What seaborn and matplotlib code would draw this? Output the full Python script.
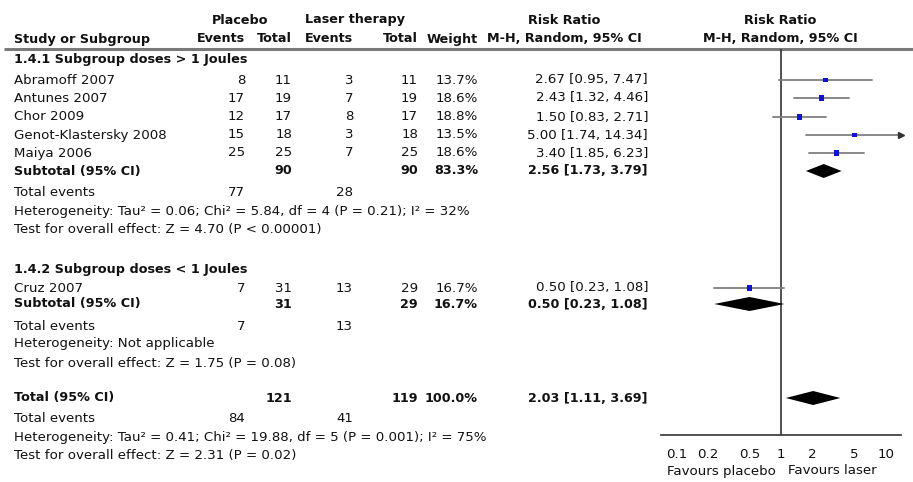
import numpy as np
import pandas as pd
import seaborn as sns
import matplotlib.pyplot as plt

# ---- data ----
studies = ["Abramoff 2007", "Antunes 2007", "Chor 2009", "Genot-Klastersky 2008", "Maiya 2006", "Cruz 2007"]
study_group = [0, 0, 0, 0, 0, 1]
placebo_events = [8, 17, 12, 15, 25, 7]
placebo_total = [11, 19, 17, 18, 25, 31]
laser_events = [3, 7, 8, 3, 7, 13]
laser_total = [11, 19, 17, 18, 25, 29]
weights = [13.7, 18.6, 18.8, 13.5, 18.6, 16.7]
rr = [2.67, 2.43, 1.50, 5.00, 3.40, 0.50]
rr_lo = [0.95, 1.32, 0.83, 1.74, 1.85, 0.23]
rr_hi = [7.47, 4.46, 2.71, 14.34, 6.23, 1.08]

groups = ["1.4.1 Subgroup doses > 1 Joules", "1.4.2 Subgroup doses < 1 Joules"]
sub_placebo_events = [77, 7]
sub_laser_events = [28, 13]
sub_placebo_total = [90, 31]
sub_laser_total = [90, 29]
sub_weight = [83.3, 16.7]
sub_rr = [2.56, 0.50]
sub_lo = [1.73, 0.23]
sub_hi = [3.79, 1.08]
sub_het = ["Heterogeneity: Tau\u00b2 = 0.06; Chi\u00b2 = 5.84, df = 4 (P = 0.21); I\u00b2 = 32%",
           "Heterogeneity: Not applicable"]
sub_test = ["Test for overall effect: Z = 4.70 (P < 0.00001)",
            "Test for overall effect: Z = 1.75 (P = 0.08)"]

tot_placebo_events, tot_laser_events = 84, 41
tot_placebo_total, tot_laser_total = 121, 119
tot_weight = 100.0
tot_rr, tot_lo, tot_hi = 2.03, 1.11, 3.69
tot_het = "Heterogeneity: Tau\u00b2 = 0.41; Chi\u00b2 = 19.88, df = 5 (P = 0.001); I\u00b2 = 75%"
tot_test = "Test for overall effect: Z = 2.31 (P = 0.02)"

tick_values = [0.1, 0.2, 0.5, 1, 2, 5, 10]
tick_labels = ["0.1", "0.2", "0.5", "1", "2", "5", "10"]

# ---- layout (pixel rows / columns) ----
W, H = 913, 482
group_y = [60, 269]
study_y = [80, 98, 117, 135, 153, 288]
sub_y = [171, 304]
events_y = [193, 326]
het_y = [211, 344]
test_y = [229, 363]
total_y, total_events_y, total_het_y, total_test_y = 398, 419, 438, 456
col_x = {"name": 14, "pe": 245, "pt": 292, "le": 353, "lt": 418, "w": 478, "rr": 648}
axis_y, line_y = 435, 49
plot_left, plot_right = 661, 901

sns.set_style("white")
plt.rcParams["font.family"] = ["DejaVu Sans"]
txt_col = "#111111"
fs = 9.6
fs_b = 9.2

fig = plt.figure(figsize=(W / 100, H / 100), dpi=100)
tab = fig.add_axes([0, 0, 1, 1])
tab.set_xlim(0, W)
tab.set_ylim(H, 0)
tab.axis("off")


def t(x, y, s, ha="left", bold=False):
    tab.text(x, y, s, ha=ha, va="center", fontsize=fs_b if bold else fs, color=txt_col,
             fontweight="bold" if bold else "normal")


# headers
t(240, 20, "Placebo", ha="center", bold=True)
t(355, 20, "Laser therapy", ha="center", bold=True)
t(564, 20, "Risk Ratio", ha="center", bold=True)
t(780, 20, "Risk Ratio", ha="center", bold=True)
t(col_x["name"], 39, "Study or Subgroup", bold=True)
t(col_x["pe"], 39, "Events", ha="right", bold=True)
t(col_x["pt"], 39, "Total", ha="right", bold=True)
t(col_x["le"], 39, "Events", ha="right", bold=True)
t(col_x["lt"], 39, "Total", ha="right", bold=True)
t(col_x["w"], 39, "Weight", ha="right", bold=True)
t(564, 39, "M-H, Random, 95% CI", ha="center", bold=True)
t(780, 39, "M-H, Random, 95% CI", ha="center", bold=True)
tab.plot([4, W], [line_y, line_y], color="#7a7a7a", lw=2.2, solid_capstyle="butt")


def ci_text(m, lo, hi):
    return f"{m:.2f} [{lo:.2f}, {hi:.2f}]"


for i, name in enumerate(studies):
    y = study_y[i]
    t(col_x["name"], y, name)
    t(col_x["pe"], y, str(placebo_events[i]), ha="right")
    t(col_x["pt"], y, str(placebo_total[i]), ha="right")
    t(col_x["le"], y, str(laser_events[i]), ha="right")
    t(col_x["lt"], y, str(laser_total[i]), ha="right")
    t(col_x["w"], y, f"{weights[i]:.1f}%", ha="right")
    t(col_x["rr"], y, ci_text(rr[i], rr_lo[i], rr_hi[i]), ha="right")

for g, gname in enumerate(groups):
    t(col_x["name"], group_y[g], gname, bold=True)
    y = sub_y[g]
    t(col_x["name"], y, "Subtotal (95% CI)", bold=True)
    t(col_x["pt"], y, str(sub_placebo_total[g]), ha="right", bold=True)
    t(col_x["lt"], y, str(sub_laser_total[g]), ha="right", bold=True)
    t(col_x["w"], y, f"{sub_weight[g]:.1f}%", ha="right", bold=True)
    t(col_x["rr"], y, ci_text(sub_rr[g], sub_lo[g], sub_hi[g]), ha="right", bold=True)
    t(col_x["name"], events_y[g], "Total events")
    t(col_x["pe"], events_y[g], str(sub_placebo_events[g]), ha="right")
    t(col_x["le"], events_y[g], str(sub_laser_events[g]), ha="right")
    t(col_x["name"], het_y[g], sub_het[g])
    t(col_x["name"], test_y[g], sub_test[g])

t(col_x["name"], total_y, "Total (95% CI)", bold=True)
t(col_x["pt"], total_y, str(tot_placebo_total), ha="right", bold=True)
t(col_x["lt"], total_y, str(tot_laser_total), ha="right", bold=True)
t(col_x["w"], total_y, f"{tot_weight:.1f}%", ha="right", bold=True)
t(col_x["rr"], total_y, ci_text(tot_rr, tot_lo, tot_hi), ha="right", bold=True)
t(col_x["name"], total_events_y, "Total events")
t(col_x["pe"], total_events_y, str(tot_placebo_events), ha="right")
t(col_x["le"], total_events_y, str(tot_laser_events), ha="right")
t(col_x["name"], total_het_y, tot_het)
t(col_x["name"], total_test_y, tot_test)

# ---- forest panel ----
ax = fig.add_axes([plot_left / W, (H - axis_y) / H, (plot_right - plot_left) / W, (axis_y - line_y) / H])
ax.set_xscale("log")
xmin, xmax = 1 / 14, 14
ax.set_xlim(xmin, xmax)
ax.set_ylim(axis_y, line_y)
ax.patch.set_alpha(0)

df = pd.DataFrame({"rr": rr, "lo": rr_lo, "hi": rr_hi, "w": weights, "y": study_y})
for _, r in df.iterrows():
    hi = min(r.hi, xmax)
    ax.plot([r.lo, hi], [r.y, r.y], color="#7f7f7f", lw=1.3, zorder=2)
    if r.hi > xmax:
        ax.plot([xmax], [r.y], marker=">", color="#333333", ms=5, clip_on=False, zorder=3)
sns.scatterplot(data=df, x="rr", y="y", size="w", sizes=(12, 17), marker="s",
                color="#1010e0", edgecolor="none", legend=False, ax=ax, zorder=4)

dh = 7
for m, lo, hi, y in zip(sub_rr + [tot_rr], sub_lo + [tot_lo], sub_hi + [tot_hi], sub_y + [total_y]):
    ax.fill([lo, m, hi, m], [y, y - dh, y, y + dh], color="black", lw=0, zorder=3)

ax.axvline(1, color="#333333", lw=1.2, zorder=1)
for s in ["top", "right", "left"]:
    ax.spines[s].set_visible(False)
ax.spines["bottom"].set_color("#333333")
ax.spines["bottom"].set_linewidth(1.2)
ax.set_yticks([])
ax.set_xticks(tick_values)
ax.set_xticklabels(tick_labels)
ax.minorticks_off()
ax.tick_params(axis="x", direction="inout", length=8, width=1.1, color="#333333",
               labelsize=fs, labelcolor=txt_col, pad=5)
ax.set_xlabel("")
ax.set_ylabel("")

t(776, 471, "Favours placebo", ha="right")
t(788, 471, "Favours laser", ha="left")

fig.savefig("out.png", dpi=100)
